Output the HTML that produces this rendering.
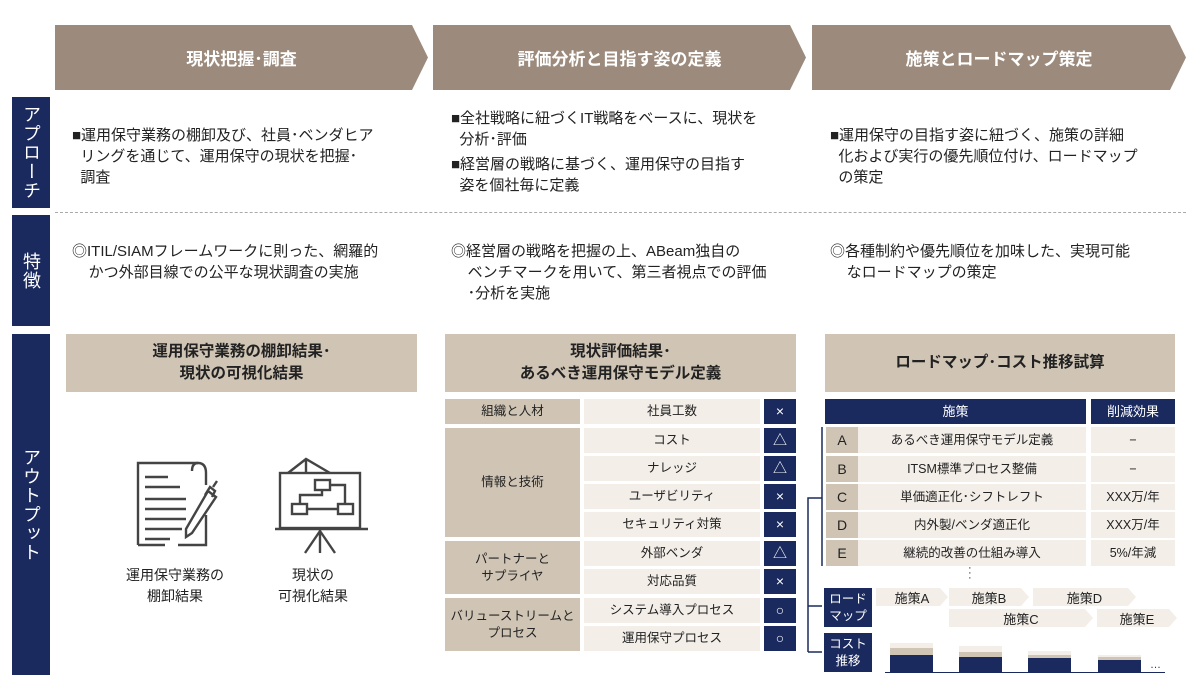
<!DOCTYPE html>
<html><head><meta charset="utf-8"><style>
*{margin:0;padding:0;box-sizing:border-box}
body{width:1200px;height:700px;background:#fff;position:relative;overflow:hidden;font-family:"Liberation Sans","Noto Sans CJK JP",sans-serif;color:#222}
.a{position:absolute}
.chev{position:absolute;top:25px;height:65px;background:#9c8b7d;color:#fff;font-size:17px;font-weight:bold;display:flex;align-items:center;justify-content:center;clip-path:polygon(0 0,calc(100% - 16px) 0,100% 50%,calc(100% - 16px) 100%,0 100%)}
.side{position:absolute;left:12px;width:38px;background:#1b2a5e;color:#fff;font-size:18px;display:flex;align-items:center;justify-content:center;writing-mode:vertical-rl;letter-spacing:1px}
.t{position:absolute;font-size:15px;line-height:21px}
.hd{position:absolute;background:#d0c5b5;font-size:15.5px;font-weight:bold;display:flex;align-items:center;justify-content:center;text-align:center;line-height:22px}
.c{position:absolute;display:flex;align-items:center;justify-content:center;text-align:center;font-size:12.5px;line-height:17px}
.tan{background:#d0c5b5}.lt{background:#f3eee8}.nv{background:#1b2a5e;color:#fff}
.rc{position:absolute;height:18px;background:#f3eee8;font-size:13px;display:flex;align-items:center;justify-content:center;clip-path:polygon(0 0,calc(100% - 8px) 0,100% 50%,calc(100% - 8px) 100%,0 100%)}
</style></head><body>
<div class="chev" style="left:55px;width:373px">現状把握･調査</div>
<div class="chev" style="left:433px;width:373px">評価分析と目指す姿の定義</div>
<div class="chev" style="left:812px;width:374px">施策とロードマップ策定</div>

<div class="side" style="top:97px;height:111px">アプローチ</div>
<div class="side" style="top:215px;height:111px">特徴</div>
<div class="side" style="top:334px;height:341px">アウトプット</div>
<div class="a" style="left:55px;top:212px;width:1131px;border-top:1px dashed #aaa"></div>

<div class="t" style="left:72px;top:125px;width:350px">■運用保守業務の棚卸及び、社員･ベンダヒア<br>&nbsp;&nbsp;リングを通じて、運用保守の現状を把握･<br>&nbsp;&nbsp;調査</div>
<div class="t" style="left:451px;top:108px;width:350px">■全社戦略に紐づくIT戦略をベースに、現状を<br>&nbsp;&nbsp;分析･評価</div>
<div class="t" style="left:451px;top:154px;width:350px">■経営層の戦略に基づく、運用保守の目指す<br>&nbsp;&nbsp;姿を個社毎に定義</div>
<div class="t" style="left:830px;top:125px;width:350px">■運用保守の目指す姿に紐づく、施策の詳細<br>&nbsp;&nbsp;化および実行の優先順位付け、ロードマップ<br>&nbsp;&nbsp;の策定</div>

<div class="t" style="left:72px;top:241px;width:360px">◎ITIL/SIAMフレームワークに則った、網羅的<br>&nbsp;&nbsp;&nbsp;&nbsp;かつ外部目線での公平な現状調査の実施</div>
<div class="t" style="left:451px;top:241px;width:360px">◎経営層の戦略を把握の上、ABeam独自の<br>&nbsp;&nbsp;&nbsp;&nbsp;ベンチマークを用いて、第三者視点での評価<br>&nbsp;&nbsp;&nbsp;&nbsp;･分析を実施</div>
<div class="t" style="left:830px;top:241px;width:360px">◎各種制約や優先順位を加味した、実現可能<br>&nbsp;&nbsp;&nbsp;&nbsp;なロードマップの策定</div>

<div class="hd" style="left:66px;top:334px;width:351px;height:58px">運用保守業務の棚卸結果･<br>現状の可視化結果</div>
<div class="hd" style="left:445px;top:334px;width:351px;height:58px">現状評価結果･<br>あるべき運用保守モデル定義</div>
<div class="hd" style="left:825px;top:334px;width:350px;height:58px">ロードマップ･コスト推移試算</div>

<svg class="a" style="left:120px;top:455px" width="260" height="100" viewBox="0 0 260 100" fill="none" stroke="#444" stroke-width="2.4">
<path d="M18 90 V8 H78 Q86 8 86 18 V30"/><path d="M78 8 Q72 8 72 16"/><path d="M86 60 V90 H58"/><path d="M45 90 H18"/>
<path d="M25 22 H48 M25 32 H60 M25 44 H66 M25 54 H66 M25 64 H66 M25 74 H62 M25 84 H50"/>
<path d="M88 36 L96 42 L72 78 L66 82 L66 74 Z M85 40 L90 32 L95 36 L92 42"/><path d="M93 32 L97 26"/>
<path d="M168 18 L186 4 L210 18 M186 4 V18"/><rect x="160" y="18" width="80" height="55"/><path d="M155 74 H248"/>
<path d="M200 74 V98 M200 76 L185 98 M200 76 L215 98"/>
<rect x="195" y="25" width="15" height="10"/><rect x="172" y="49" width="15" height="10"/><rect x="218" y="49" width="15" height="10"/><path d="M210 30 H225 V49 M187 54 H218 M180 49 V40 H202 V35"/>
</svg>
<div class="t" style="left:110px;top:565px;width:130px;text-align:center;font-size:14px">運用保守業務の<br>棚卸結果</div>
<div class="t" style="left:258px;top:565px;width:110px;text-align:center;font-size:14px">現状の<br>可視化結果</div>

<div class="c tan" style="left:445px;top:399px;width:135px;height:25px">組織と人材</div>
<div class="c tan" style="left:445px;top:428px;width:135px;height:109px">情報と技術</div>
<div class="c tan" style="left:445px;top:541px;width:135px;height:53px">パートナーと<br>サプライヤ</div>
<div class="c tan" style="left:445px;top:598px;width:135px;height:53px">バリューストリームと<br>プロセス</div>
<div class="c lt" style="left:584px;top:399px;width:176px;height:25px">社員工数</div>
<div class="c lt" style="left:584px;top:428px;width:176px;height:25px">コスト</div>
<div class="c lt" style="left:584px;top:456px;width:176px;height:25px">ナレッジ</div>
<div class="c lt" style="left:584px;top:484px;width:176px;height:25px">ユーザビリティ</div>
<div class="c lt" style="left:584px;top:512px;width:176px;height:25px">セキュリティ対策</div>
<div class="c lt" style="left:584px;top:541px;width:176px;height:25px">外部ベンダ</div>
<div class="c lt" style="left:584px;top:569px;width:176px;height:25px">対応品質</div>
<div class="c lt" style="left:584px;top:598px;width:176px;height:25px">システム導入プロセス</div>
<div class="c lt" style="left:584px;top:626px;width:176px;height:25px">運用保守プロセス</div>
<div class="c nv" style="left:764px;top:399px;width:32px;height:25px;font-size:14px">×</div>
<div class="c nv" style="left:764px;top:428px;width:32px;height:25px;font-size:14px">△</div>
<div class="c nv" style="left:764px;top:456px;width:32px;height:25px;font-size:14px">△</div>
<div class="c nv" style="left:764px;top:484px;width:32px;height:25px;font-size:14px">×</div>
<div class="c nv" style="left:764px;top:512px;width:32px;height:25px;font-size:14px">×</div>
<div class="c nv" style="left:764px;top:541px;width:32px;height:25px;font-size:14px">△</div>
<div class="c nv" style="left:764px;top:569px;width:32px;height:25px;font-size:14px">×</div>
<div class="c nv" style="left:764px;top:598px;width:32px;height:25px;font-size:14px">○</div>
<div class="c nv" style="left:764px;top:626px;width:32px;height:25px;font-size:14px">○</div>

<div class="c nv" style="left:825px;top:399px;width:261px;height:25px;font-size:13px">施策</div>
<div class="c nv" style="left:1091px;top:399px;width:84px;height:25px;font-size:13px">削減効果</div>
<div class="c tan" style="left:826px;top:427px;width:32px;height:26px;font-size:14px">A</div>
<div class="c tan" style="left:826px;top:456px;width:32px;height:26px;font-size:14px">B</div>
<div class="c tan" style="left:826px;top:484px;width:32px;height:26px;font-size:14px">C</div>
<div class="c tan" style="left:826px;top:512px;width:32px;height:26px;font-size:14px">D</div>
<div class="c tan" style="left:826px;top:540px;width:32px;height:26px;font-size:14px">E</div>
<div class="c lt" style="left:858px;top:427px;width:228px;height:26px">あるべき運用保守モデル定義</div>
<div class="c lt" style="left:858px;top:456px;width:228px;height:26px">ITSM標準プロセス整備</div>
<div class="c lt" style="left:858px;top:484px;width:228px;height:26px">単価適正化･シフトレフト</div>
<div class="c lt" style="left:858px;top:512px;width:228px;height:26px">内外製/ベンダ適正化</div>
<div class="c lt" style="left:858px;top:540px;width:228px;height:26px">継続的改善の仕組み導入</div>
<div class="c lt" style="left:1091px;top:427px;width:84px;height:26px">−</div>
<div class="c lt" style="left:1091px;top:456px;width:84px;height:26px">−</div>
<div class="c lt" style="left:1091px;top:484px;width:84px;height:26px">XXX万/年</div>
<div class="c lt" style="left:1091px;top:512px;width:84px;height:26px">XXX万/年</div>
<div class="c lt" style="left:1091px;top:540px;width:84px;height:26px">5%/年減</div>
<div class="a" style="left:968px;top:566px;font-size:11px;line-height:5px">·<br>·<br>·</div>

<svg class="a" style="left:800px;top:420px" width="40" height="260">
<path d="M22 7 V146 M22 78 H8 V232 M8 186 H22 M8 232 H22" stroke="#1b2a5e" stroke-width="1.5" fill="none"/>
<path d="M24 182 L24 190 L29 186 Z M24 228 L24 236 L29 232 Z" fill="#1b2a5e"/>
</svg>
<div class="c nv" style="left:824px;top:588px;width:48px;height:39px;font-size:12.5px">ロード<br>マップ</div>
<div class="c nv" style="left:824px;top:633px;width:48px;height:39px;font-size:12.5px">コスト<br>推移</div>
<div class="rc" style="left:876px;top:588px;width:72px">施策A</div>
<div class="rc" style="left:949px;top:588px;width:80px">施策B</div>
<div class="rc" style="left:1033px;top:588px;width:103px">施策D</div>
<div class="rc" style="left:949px;top:609px;width:144px">施策C</div>
<div class="rc" style="left:1097px;top:609px;width:80px">施策E</div>

<svg class="a" style="left:880px;top:636px" width="300" height="40">
<rect x="10" y="7" width="43" height="5" fill="#f3eee8"/><rect x="10" y="12" width="43" height="7" fill="#d0c5b5"/><rect x="10" y="19" width="43" height="17" fill="#1b2a5e"/>
<rect x="79" y="10" width="43" height="6" fill="#f3eee8"/><rect x="79" y="16" width="43" height="5" fill="#d0c5b5"/><rect x="79" y="21" width="43" height="15" fill="#1b2a5e"/>
<rect x="148" y="15" width="43" height="4" fill="#f3eee8"/><rect x="148" y="19" width="43" height="3" fill="#d0c5b5"/><rect x="148" y="22" width="43" height="14" fill="#1b2a5e"/>
<rect x="218" y="19" width="43" height="2" fill="#f3eee8"/><rect x="218" y="21" width="43" height="3" fill="#d0c5b5"/><rect x="218" y="24" width="43" height="12" fill="#1b2a5e"/>
<path d="M5 36.5 H285" stroke="#1b2a5e" stroke-width="1"/>
<text x="270" y="32" font-size="11" fill="#333">…</text>
</svg>
</body></html>
